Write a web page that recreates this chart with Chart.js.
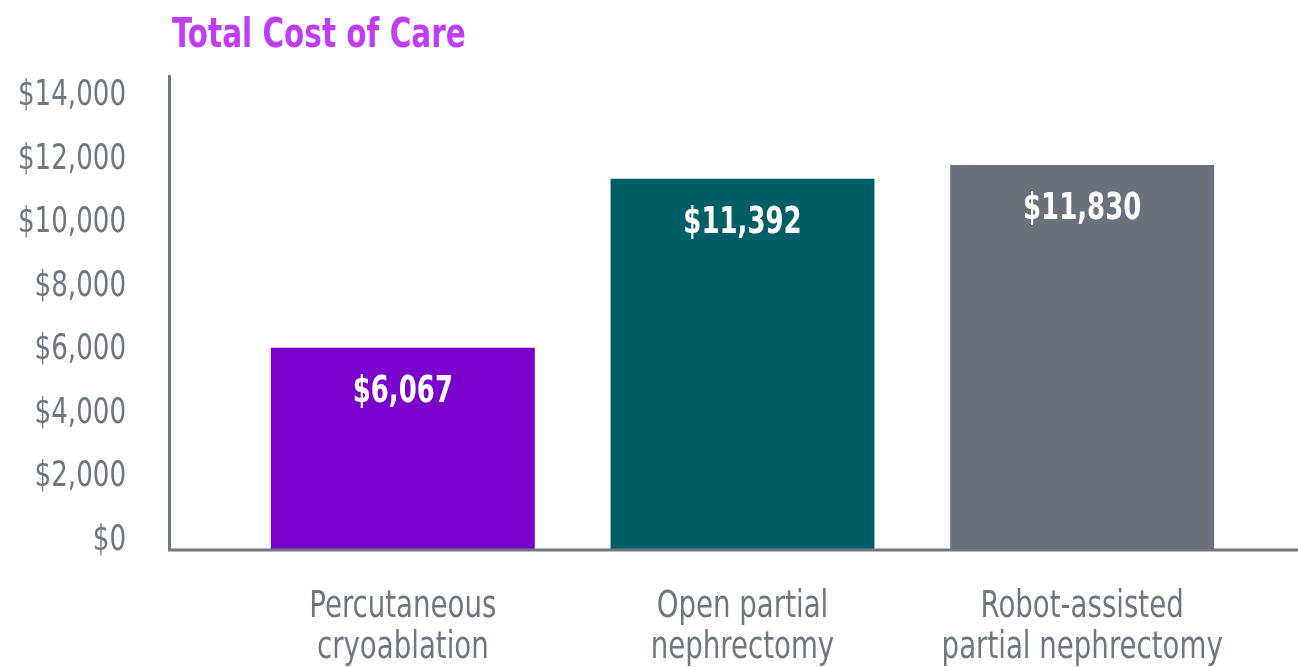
<!DOCTYPE html>
<html>
<head>
<meta charset="utf-8">
<script src="https://cdn.jsdelivr.net/npm/chart.js@4.4.1/dist/chart.umd.min.js"></script>
<style>
  html, body { margin: 0; padding: 0; background: #ffffff; }
  #wrap { position: relative; width: 1298px; height: 667px; }
</style>
</head>
<body>
<div id="wrap"><canvas id="c" width="1298" height="667"></canvas></div>
<script>
const chartTitle = "Total Cost of Care";
const categories = [
  ["Percutaneous", "cryoablation"],
  ["Open partial", "nephrectomy"],
  ["Robot-assisted", "partial nephrectomy"]
];
const costValues = [6067, 11392, 11830];
const valueLabels = ["$6,067", "$11,392", "$11,830"];
const barColors = ["#7A00CC", "#005E66", "#6B717B"];
const yTicks = [0, 2000, 4000, 6000, 8000, 10000, 12000, 14000];
const yTickLabels = ["$0", "$2,000", "$4,000", "$6,000", "$8,000", "$10,000", "$12,000", "$14,000"];

const FONT = "'DejaVu Sans Condensed', 'DejaVu Sans', sans-serif";
const AXIS_COLOR = "#717880";
const TEXT_COLOR = "#6E7781";
let textScaleX = 0.83;

const decor = {
  id: 'decor',
  beforeDraw(chart) {
    const ctx = chart.ctx;
    if (!ctx.__wrapped) {
      const orig = ctx.fillText;
      ctx.fillText = function (t, x, y, mw) {
        this.save();
        this.translate(x, y);
        this.scale(textScaleX, 1);
        orig.call(this, t, 0, 0);
        this.restore();
      };
      ctx.__wrapped = true;
    }
    textScaleX = 0.83;
  },
  afterDatasetsDraw(chart) {
    const ctx = chart.ctx;
    const ca = chart.chartArea;
    ctx.save();
    ctx.fillStyle = '#ffffff';
    ctx.font = "bold 38px " + FONT;
    ctx.textAlign = 'center';
    ctx.textBaseline = 'middle';
    textScaleX = 0.76;
    chart.getDatasetMeta(0).data.forEach((bar, i) => {
      ctx.fillText(valueLabels[i], bar.x, bar.y + 44);
    });
    ctx.strokeStyle = AXIS_COLOR;
    ctx.lineWidth = 3;
    ctx.beginPath();
    ctx.moveTo(169.5, 75);
    ctx.lineTo(169.5, ca.bottom);
    ctx.lineTo(chart.width, ca.bottom);
    ctx.stroke();
    ctx.fillStyle = '#C03CF8';
    ctx.font = "bold 41px " + FONT;
    ctx.textAlign = 'left';
    ctx.textBaseline = 'alphabetic';
    textScaleX = 0.80;
    ctx.fillText(chartTitle, 172, 47);
    ctx.restore();
    textScaleX = 0.83;
  }
};

new Chart(document.getElementById('c'), {
  type: 'bar',
  data: {
    labels: categories,
    datasets: [{
      data: costValues,
      backgroundColor: barColors,
      borderWidth: 0,
      base: -300,
      barPercentage: 0.777,
      categoryPercentage: 1.0
    }]
  },
  options: {
    responsive: false,
    animation: false,
    devicePixelRatio: 1,
    layout: { padding: { left: 0, right: 46, top: 96, bottom: 0 } },
    plugins: {
      legend: { display: false },
      tooltip: { enabled: false },
      title: { display: false }
    },
    scales: {
      x: {
        grid: { display: false, drawTicks: false },
        border: { display: false },
        ticks: {
          color: TEXT_COLOR,
          font: { family: FONT, size: 37, lineHeight: 1.108 },
          padding: 37,
          maxRotation: 0,
          autoSkip: false
        },
        afterFit(scale) { scale.height = 117; scale.paddingLeft = 0; scale.paddingRight = 0; }
      },
      y: {
        min: -300,
        max: 14000,
        grid: { display: false, drawTicks: false },
        border: { display: false },
        afterBuildTicks(scale) { scale.ticks = yTicks.map(v => ({ value: v })); },
        ticks: {
          color: TEXT_COLOR,
          font: { family: FONT, size: 35 },
          padding: 107,
          callback: (v) => yTickLabels[yTicks.indexOf(v)]
        },
        afterFit(scale) { scale.width = 233; scale.paddingTop = 0; scale.paddingBottom = 0; }
      }
    }
  },
  plugins: [decor]
});
</script>
</body>
</html>
